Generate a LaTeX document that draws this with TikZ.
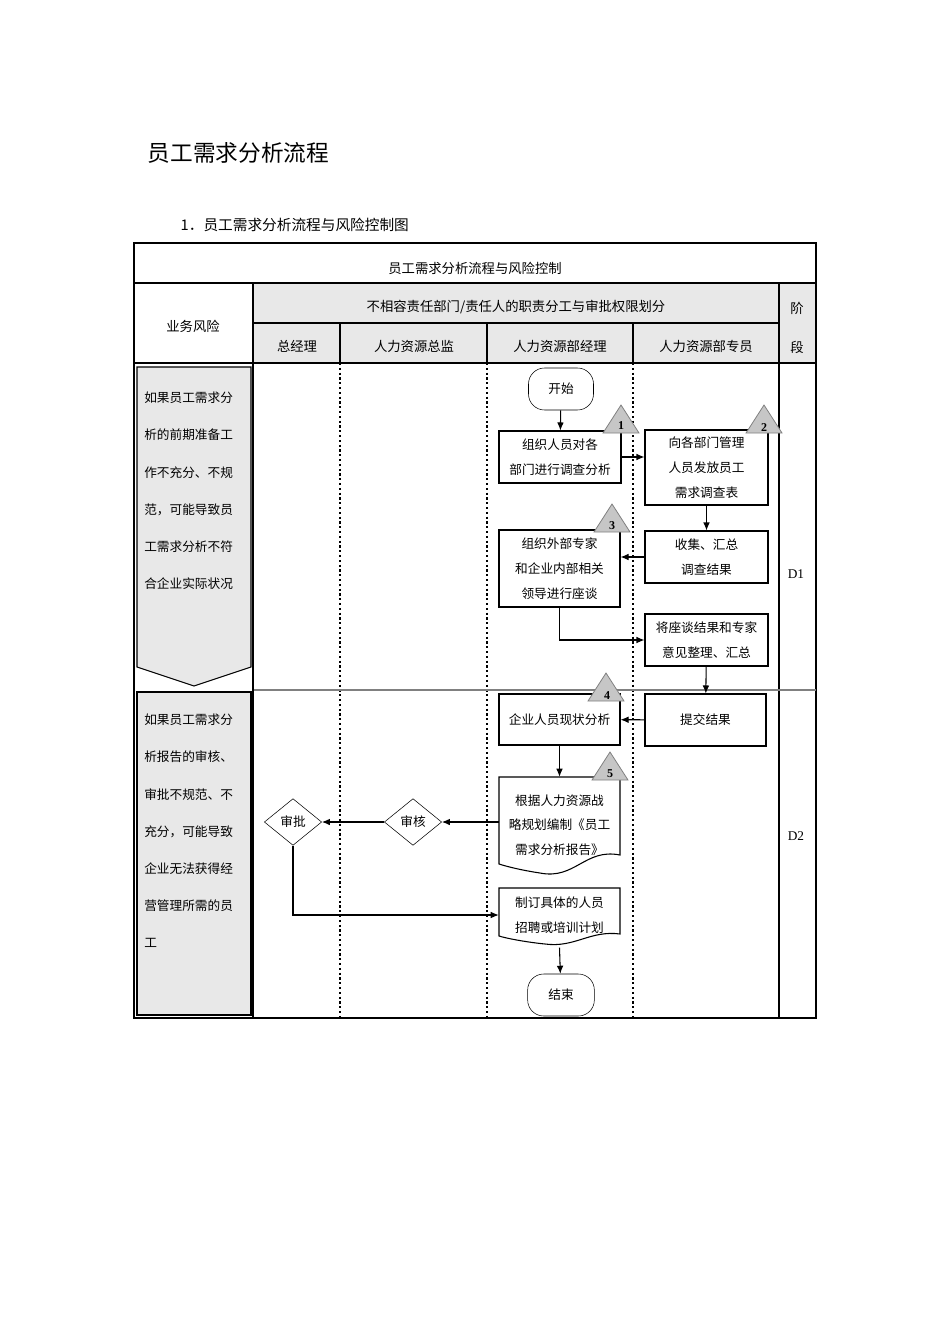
\documentclass[tikz,border=0pt]{standalone}
\usepackage{fontspec}
\setmainfont{Noto Sans CJK SC}
\newfontfamily\latin{Liberation Serif}
\usetikzlibrary{arrows.meta,shapes.geometric}
\begin{document}
\begin{tikzpicture}[x=0.75pt,y=-0.75pt,
  box/.style={draw,line width=0.8pt,fill=white,align=center,font=\fontsize{9.5}{18.5}\selectfont,inner sep=1pt},
  term/.style={draw,rounded corners=12pt,fill=white,minimum width=48.75pt,minimum height=31.5pt,font=\fontsize{9.5}{12}\selectfont},
  dia/.style={draw,diamond,aspect=1.2,minimum width=43pt,minimum height=35pt,inner sep=0pt,fill=white,font=\fontsize{9.5}{12}\selectfont},
  arr/.style={-{Latex[length=6pt,width=5pt]},line width=0.8pt},
  lane/.style={dotted,line width=1.6pt},
  tri/.style={draw=gray,fill=gray!45,line width=0.6pt},
  risk/.style={align=left,font=\fontsize{9.5}{27.8}\selectfont,anchor=north west,inner sep=0pt},
  hdr/.style={font=\fontsize{10}{12}\selectfont}]
\useasboundingbox (0,0) rectangle (950,1344);
% titles
\node[anchor=west,font=\fontsize{17}{20}\selectfont] at (143,153) {员工需求分析流程};
\node[anchor=west,font=\fontsize{11}{13}\selectfont] at (176,225) {1．员工需求分析流程与风险控制图};
% table
\fill[gray!18] (254,283) rectangle (779,363);
\fill[gray!18] (779,283) rectangle (816,363);
\draw[line width=1pt] (134,243) rectangle (816,1018);
\draw[line width=1pt] (134,283) -- (816,283);
\draw[line width=1.2pt] (254,323) -- (779,323);
\draw[line width=1.2pt] (134,363) -- (816,363);
\draw[line width=1pt] (253,283) -- (253,1018);
\draw[line width=0.8pt] (779,283) -- (779,1018);
\draw[line width=0.8pt] (340,323) -- (340,363) (487,323) -- (487,363) (633,323) -- (633,363);
\draw[lane] (340,363) -- (340,1018) (487,363) -- (487,1018) (633,363) -- (633,1018);
\draw[gray,line width=1.4pt] (254,690) -- (816,690);
\node[hdr] (h0) at (475,268) {员工需求分析流程与风险控制};
\node[hdr] (h1) at (516,307) {不相容责任部门/责任人的职责分工与审批权限划分};
\node[hdr] (h2) at (193,326) {业务风险};
\node[hdr] (l1) at (297,346) {总经理};
\node[hdr] (l2) at (414,346) {人力资源总监};
\node[hdr] (l3) at (560,346) {人力资源部经理};
\node[hdr] (l4) at (706,346) {人力资源部专员};
\node[hdr] (st1) at (797,308) {阶};
\node[hdr] (st2) at (797,347) {段};
\node[font=\latin\fontsize{10}{12}\selectfont] (d1) at (796,574) {D1};
\node[font=\latin\fontsize{10}{12}\selectfont] (d2) at (796,836) {D2};
% risk shapes
\draw[fill=gray!18,line width=0.8pt] (137,367) -- (251,367) -- (251,667) -- (194,686) -- (137,667) -- cycle;
\draw[fill=gray!18,line width=0.8pt] (137,692) rectangle (251,1015);
\node[risk] (r1) at (144,392) {如果员工需求分\\析的前期准备工\\作不充分、不规\\范，可能导致员\\工需求分析不符\\合企业实际状况};
\node[risk] (r2) at (144,714) {如果员工需求分\\析报告的审核、\\审批不规范、不\\充分，可能导致\\企业无法获得经\\营管理所需的员\\工};
% nodes
\node[term] (start) at (561,389) {开始};
\node[box,minimum width=91.5pt,minimum height=39pt] (b1) at (560,457) {组织人员对各\\部门进行调查分析};
\node[box,minimum width=92.25pt,minimum height=56.25pt] (b2) at (706.5,467.5) {向各部门管理\\人员发放员工\\需求调查表};
\node[box,minimum width=92.25pt,minimum height=39pt] (b4) at (706.5,557) {收集、汇总\\调查结果};
\node[box,minimum width=90.75pt,minimum height=57.75pt] (b3) at (559.5,568.5) {组织外部专家\\和企业内部相关\\领导进行座谈};
\node[box,minimum width=92.25pt,minimum height=39pt] (b5) at (706.5,640) {将座谈结果和专家\\意见整理、汇总};
\node[box,minimum width=90.75pt,minimum height=38.25pt] (b6) at (559.5,719.5) {企业人员现状分析};
\node[box,minimum width=90.75pt,minimum height=39pt] (b7) at (705.5,720) {提交结果};
\node[align=center,font=\fontsize{9.5}{18.5}\selectfont,minimum width=90.75pt,minimum height=72pt,inner sep=0pt] (b8) at (559.5,825) {根据人力资源战\\略规划编制《员工\\需求分析报告》};
\draw[line width=0.8pt] (499,777) -- (620,777) -- (620,855) .. controls (585,848) and (575,880) .. (540,873) .. controls (520,870) and (505,866) .. (499,864) -- cycle;
\node[align=center,font=\fontsize{9.5}{18.5}\selectfont,minimum width=90.75pt,minimum height=41pt,inner sep=0pt] (b9) at (559.5,915) {制订具体的人员\\招聘或培训计划};
\draw[line width=0.8pt] (499,888) -- (620,888) -- (620,934) .. controls (590,930) and (575,948) .. (545,944) .. controls (525,942) and (505,938) .. (499,936) -- cycle;
\node[dia] (sh) at (413,822) {审核};
\node[dia] (sp) at (293,822) {审批};
\node[term,minimum width=50pt] (end) at (561,995) {结束};
% triangles
\draw[tri] (621,405) -- (639,433) -- (603,433) -- cycle;
\node[font=\latin\bfseries\fontsize{9}{10}\selectfont] (n1) at (621,426) {1};
\draw[tri] (764,405) -- (782,433) -- (746,433) -- cycle;
\node[font=\latin\bfseries\fontsize{9}{10}\selectfont] (n2) at (764,428) {2};
\draw[tri] (612,504) -- (630,532) -- (594,532) -- cycle;
\node[font=\latin\bfseries\fontsize{9}{10}\selectfont] (n3) at (612,526) {3};
\draw[tri] (606,673) -- (624,701) -- (588,701) -- cycle;
\node[font=\latin\bfseries\fontsize{9}{10}\selectfont] (n4) at (607,696) {4};
\draw[tri] (610,752) -- (628,780) -- (592,780) -- cycle;
\node[font=\latin\bfseries\fontsize{9}{10}\selectfont] (n5) at (610,774) {5};
% connectors
\draw[arr] (start) -- (b1);
\draw[arr] (b1.east) -- (b2.west |- b1.east);
\draw[arr] (b2) -- (b4);
\draw[arr] (b4) -- (b3.east |- b4);
\draw[arr] (b3.south) |- (b5.west);
\draw[arr] (b5) -- (b7);
\draw[arr] (b7) -- (b6);
\draw[arr] (b6) -- (b8.north);
\draw[arr] (b8.west |- sh) -- (sh);
\draw[arr] (sh) -- (sp);
\draw[arr] (sp.south) |- (b9.west);
\draw[arr] (b9.south) ++(0,5) -- (end);
\end{tikzpicture}
\end{document}
